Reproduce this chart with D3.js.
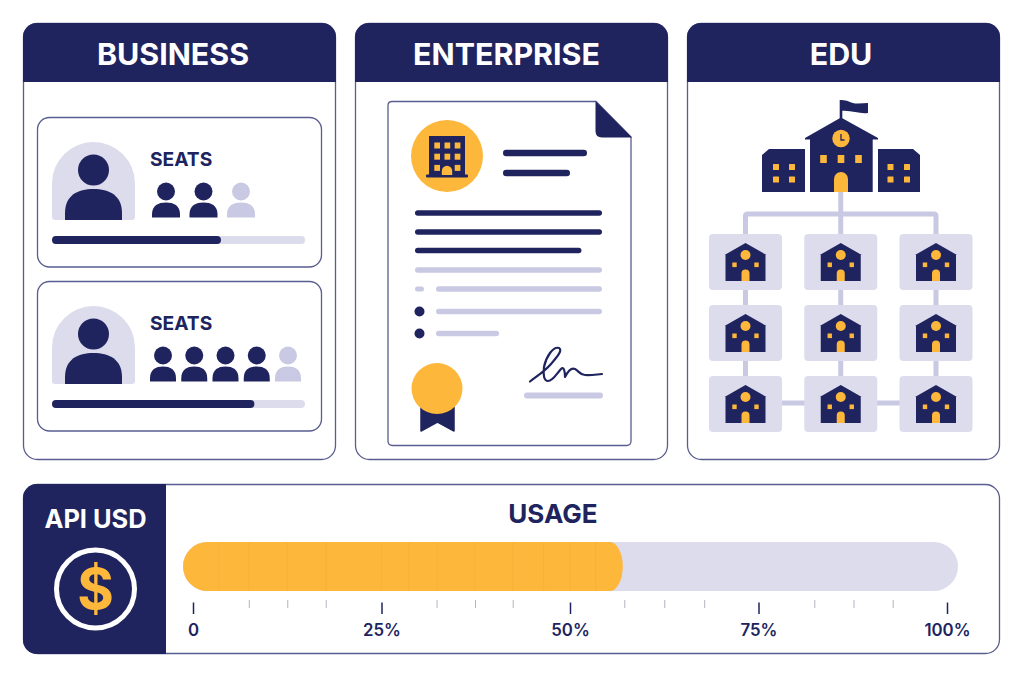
<!DOCTYPE html>
<html>
<head>
<meta charset="utf-8">
<script src="https://cdn.jsdelivr.net/npm/d3@7"></script>
<style>
  html, body { margin: 0; padding: 0; background: #fff; }
  svg { display: block; }
  text { font-family: Inter, "Noto Sans", sans-serif; }
</style>
</head>
<body>
<div id="chart"></div>
<script>
// data
const planTitles = ['BUSINESS', 'ENTERPRISE', 'EDU'];
const seatLabels = ['SEATS', 'SEATS'];
const seatsUsed = [2, 4];
const seatsTotal = [3, 5];
const seatShare = [66.8, 80];
const docDarkLines = [100, 100, 89];
const docLightLines = [100, 100, 100, 38];
const campusRows = [0, 1, 2];
const campusCols = [0, 1, 2];
const usageTitle = 'USAGE';
const usageLabel = 'API USD';
const usageValue = 57;
const usageMajor = [0, 25, 50, 75, 100];
const usageMinor = [7.4, 12.5, 17.6, 32.3, 37.4, 42.4, 57.2, 62.5, 67.8, 82.4, 87.6, 92.8];
const usageSegments = [3.4, 7.4, 12.5, 17.6, 25, 28.6, 32.4, 37.4, 42.4, 46.5, 50, 53.4];

const navy = '#20245e';
const orange = '#fdb73b';
const pale = '#dcdcec';
const lilac = '#c9c9e3';
const rim = '#5a5d90';

const svg = d3.select('#chart').append('svg')
    .attr('width', 1024)
    .attr('height', 683)
    .attr('viewBox', [0, 0, 1024, 683]);

function label(g, x, y, txt, size, weight, color, anchor) {
    return g.append('text')
        .attr('x', x).attr('y', y)
        .attr('text-anchor', anchor || 'middle')
        .attr('font-size', size)
        .attr('font-weight', weight)
        .attr('fill', color)
        .text(txt);
}

function bar(g, x0, x1, y, h, color) {
    return g.append('rect')
        .attr('x', x0).attr('y', y - h / 2)
        .attr('width', x1 - x0).attr('height', h)
        .attr('rx', h / 2)
        .attr('fill', color);
}

function person(g, cx, headY, r, bodyW, top, bottom, color) {
    const h = bottom - top;
    g.append('circle').attr('cx', cx).attr('cy', headY).attr('r', r).attr('fill', color);
    g.append('path')
        .attr('d', `M${cx - bodyW},${bottom} V${bottom - h * 0.22}
            C${cx - bodyW},${top + h * 0.2} ${cx - bodyW * 0.55},${top} ${cx},${top}
            S${cx + bodyW},${top + h * 0.2} ${cx + bodyW},${bottom - h * 0.22} V${bottom} Z`)
        .attr('fill', color);
}

// ---- top panels
const panelX = d3.scalePoint().domain(planTitles).range([23, 687]);
const titleX = [173, 506.5, 841];
const panelW = 313, panelTop = 23, panelBottom = 460, headBottom = 82, panelR = 14;

planTitles.forEach((title, i) => {
    const x = panelX(title);
    const g = svg.append('g');
    g.append('rect')
        .attr('x', x + 0.5).attr('y', panelTop + 0.5)
        .attr('width', panelW - 1).attr('height', panelBottom - panelTop - 1)
        .attr('rx', panelR)
        .attr('fill', '#fff')
        .attr('stroke', rim)
        .attr('stroke-width', 1.3);
    g.append('path')
        .attr('d', `M${x},${headBottom} V${panelTop + panelR} A${panelR},${panelR} 0 0 1 ${x + panelR},${panelTop}
            H${x + panelW - panelR} A${panelR},${panelR} 0 0 1 ${x + panelW},${panelTop + panelR} V${headBottom} Z`)
        .attr('fill', navy);
    label(g, titleX[i], 64.5, title, 30.4, 700, '#fff');
});

// ---- business: seat cards
const shareX = d3.scaleLinear().domain([0, 100]).range([52, 305]);
const cardTop = [117, 281];

seatsUsed.forEach((used, i) => {
    const y0 = cardTop[i];
    const total = seatsTotal[i];
    const g = svg.append('g');
    g.append('rect')
        .attr('x', 37.5).attr('y', y0 + 0.5)
        .attr('width', 284).attr('height', 149.5)
        .attr('rx', 12)
        .attr('fill', '#fff')
        .attr('stroke', rim)
        .attr('stroke-width', 1.3);

    // avatar
    g.append('path')
        .attr('d', `M52,${y0 + 100} V${y0 + 66.5} A41.5,41.5 0 0 1 135,${y0 + 66.5} V${y0 + 100}
            Q135,${y0 + 103} 132,${y0 + 103} H55 Q52,${y0 + 103} 52,${y0 + 100} Z`)
        .attr('fill', pale);
    person(g, 93.5, y0 + 53, 15.5, 28.5, y0 + 72, y0 + 103, navy);

    label(g, 150, y0 + 48.5, seatLabels[i], 19.2, 700, navy, 'start');

    // one small figure per seat
    const few = total <= 3;
    const seatX = d3.scalePoint()
        .domain(d3.range(total))
        .range(few ? [166, 241] : [163, 288]);
    d3.range(total).forEach(s => {
        person(g, seatX(s), y0 + 74.5, 9, few ? 14 : 13, y0 + 85.5, y0 + 100.5, s < used ? navy : lilac);
    });

    // seat share bar
    const barY = y0 + 123;
    bar(g, shareX(0), shareX(100), barY, 8, pale);
    bar(g, shareX(0), shareX(seatShare[i]), barY, 8, navy);
});

// ---- enterprise: contract document
const doc = svg.append('g');
doc.append('path')
    .attr('d', `M392,101.5 H596 L631,137 V441 Q631,445.5 626.5,445.5 H392.5 Q388,445.5 388,441 V105.5 Q388,101.5 392,101.5 Z`)
    .attr('fill', '#fff')
    .attr('stroke', rim)
    .attr('stroke-width', 1.3);
doc.append('path')
    .attr('d', 'M595.5,101 L632,137.5 H602 Q595.5,137.5 595.5,131 Z')
    .attr('fill', navy);

doc.append('circle').attr('cx', 447).attr('cy', 156).attr('r', 36).attr('fill', orange);
doc.append('rect').attr('x', 429).attr('y', 136).attr('width', 36).attr('height', 40).attr('fill', navy);
doc.append('rect').attr('x', 426).attr('y', 174.5).attr('width', 42).attr('height', 3).attr('rx', 1).attr('fill', navy);
[0, 1, 2].forEach(r => [0, 1, 2].forEach(c => {
    if (r === 2 && c === 1) return;
    doc.append('rect')
        .attr('x', 434.3 + c * 10.2).attr('y', 142.5 + r * 11.2)
        .attr('width', 5.7).attr('height', 6)
        .attr('fill', orange);
}));
doc.append('path')
    .attr('d', 'M441.8,175 V171 A5.2,5.2 0 0 1 452.2,171 V175 Z')
    .attr('fill', orange);

bar(doc, 503, 587, 153, 6.5, navy);
bar(doc, 503, 570, 173, 6.5, navy);

const docX = d3.scaleLinear().domain([0, 100]).range([415, 602]);
const docListX = d3.scaleLinear().domain([0, 100]).range([436, 602]);
const darkY = [213, 232, 250.5];
docDarkLines.forEach((v, i) => bar(doc, docX(0), docX(v), darkY[i], 5.5, navy));

const lightY = [270, 289, 311.5, 333.5];
bar(doc, docX(0), docX(docLightLines[0]), lightY[0], 5.5, lilac);
docLightLines.slice(1).forEach((v, i) => bar(doc, docListX(0), docListX(v), lightY[i + 1], 5.5, lilac));
bar(doc, 415, 424, lightY[1], 5, lilac);
doc.append('circle').attr('cx', 419.5).attr('cy', lightY[2]).attr('r', 5).attr('fill', navy);
doc.append('circle').attr('cx', 419.5).attr('cy', lightY[3]).attr('r', 5).attr('fill', navy);

// seal
doc.append('path')
    .attr('d', 'M421,405 H454 V431 L437.5,422 L421,431 Z')
    .attr('fill', navy)
    .attr('stroke', navy)
    .attr('stroke-linejoin', 'round')
    .attr('stroke-width', 1.5);
doc.append('circle').attr('cx', 437).attr('cy', 388.5).attr('r', 25.5).attr('fill', orange);

// signature
doc.append('path')
    .attr('d', `M530,381.5 C537,376 544,372 551,364 C557,357 563,350 559,348 C553,346 546,357 544,367
        C543,375 544,381 548,381 C553,381 557,373 561,369 C564,366 565,372 565,377 C567,373 571,367 575,369
        C579,371 580,375 585,375 C591,375.5 596,374.5 602,374`)
    .attr('fill', 'none')
    .attr('stroke', navy)
    .attr('stroke-width', 2.2)
    .attr('stroke-linecap', 'round')
    .attr('stroke-linejoin', 'round');
bar(doc, 524, 603, 395.5, 6, lilac);

// ---- edu: campus tree
const edu = svg.append('g');
const colX = d3.scalePoint().domain(campusCols).range([745.5, 936]);
const midX = colX(1) - 0.5;
const rowY = d3.scalePoint().domain(campusRows).range([262, 404]);
const tileW = 73, tileH = 56;

// connectors under the tiles
const linkColor = lilac;
function link(x1, y1, x2, y2) {
    edu.append('line')
        .attr('x1', x1).attr('y1', y1).attr('x2', x2).attr('y2', y2)
        .attr('stroke', linkColor)
        .attr('stroke-width', 5);
}
link(midX + 0.5, 190, midX + 0.5, 236);
edu.append('path')
    .attr('d', `M${colX(0)},236 V216 Q${colX(0)},214 ${colX(0) + 2},214 H${colX(2) - 2} Q${colX(2)},214 ${colX(2)},216 V236`)
    .attr('fill', 'none')
    .attr('stroke', linkColor)
    .attr('stroke-width', 5);
campusCols.forEach(c => link(colX(c), rowY(0), colX(c), rowY(2)));
link(colX(0), rowY(2) - 1, colX(2), rowY(2) - 1);

campusRows.forEach(r => campusCols.forEach(c => {
    const cx = c === 1 ? midX + 0.5 : colX(c);
    const top = rowY(r) - tileH / 2;
    const g = edu.append('g');
    g.append('rect')
        .attr('x', cx - tileW / 2).attr('y', top)
        .attr('width', tileW).attr('height', tileH)
        .attr('rx', 4)
        .attr('fill', pale);
    g.append('path')
        .attr('d', `M${cx},${top + 9} L${cx + 21},${top + 21} H${cx + 20} V${top + 47} H${cx - 20} V${top + 21} H${cx - 21} Z`)
        .attr('fill', navy);
    g.append('circle').attr('cx', cx).attr('cy', top + 21).attr('r', 5).attr('fill', orange);
    [-11, 11].forEach(d => {
        g.append('rect')
            .attr('x', cx + d - 2.2).attr('y', top + 28.5)
            .attr('width', 4.4).attr('height', 4.6)
            .attr('fill', orange);
    });
    g.append('path')
        .attr('d', `M${cx - 4},${top + 47} V${top + 39.5} A4,4 0 0 1 ${cx + 4},${top + 39.5} V${top + 47} Z`)
        .attr('fill', orange);
}));

// main school
edu.append('rect').attr('x', 839.7).attr('y', 100).attr('width', 2.6).attr('height', 20).attr('fill', navy);
edu.append('path')
    .attr('d', 'M841,100 C848,100 852,104 858,103.5 L868,103 V113 C860,114.5 852,110 841,111 Z')
    .attr('fill', navy);
edu.append('path')
    .attr('d', 'M841,117.5 L878,138 V139.5 H872.7 V192 H810 V139.5 H805 V138 Z')
    .attr('fill', navy);
edu.append('circle').attr('cx', 841).attr('cy', 138.5).attr('r', 8.7).attr('fill', orange);
edu.append('path')
    .attr('d', 'M841,134 V140 H844.5')
    .attr('fill', 'none')
    .attr('stroke', navy)
    .attr('stroke-width', 1.3);
[823.5, 841, 858.5].forEach(x => {
    edu.append('rect').attr('x', x - 3.3).attr('y', 155).attr('width', 6.6).attr('height', 8).attr('fill', orange);
});
edu.append('path').attr('d', 'M834,192 V179 A7,7 0 0 1 848,179 V192 Z').attr('fill', orange);

edu.append('path').attr('d', 'M769,149 H805 V192 H762 V155 Z').attr('fill', navy);
edu.append('path').attr('d', 'M878,149 H913 L920,155 V192 H878 Z').attr('fill', navy);
[776, 792, 890.5, 907].forEach(x => [167, 179.5].forEach(y => {
    edu.append('rect').attr('x', x - 3).attr('y', y - 3).attr('width', 6).attr('height', 6).attr('rx', 0.5).attr('fill', orange);
}));

// ---- usage panel
const use = svg.append('g');
const top2 = 484, bot2 = 654, side = 166;
use.append('rect')
    .attr('x', 23.5).attr('y', top2 + 0.5)
    .attr('width', 976).attr('height', bot2 - top2 - 1)
    .attr('rx', 14)
    .attr('fill', '#fff')
    .attr('stroke', rim)
    .attr('stroke-width', 1.3);
use.append('path')
    .attr('d', `M${side},${top2} H37 A14,14 0 0 0 23,${top2 + 14} V${bot2 - 14} A14,14 0 0 0 37,${bot2} H${side} Z`)
    .attr('fill', navy);

label(use, 95.5, 527.5, usageLabel, 25.4, 700, '#fff');
use.append('circle')
    .attr('cx', 95.5).attr('cy', 589).attr('r', 39)
    .attr('fill', 'none')
    .attr('stroke', '#fff')
    .attr('stroke-width', 5);
label(use, 95.5, 609, '$', 56, 700, orange);

label(use, 553, 522.5, usageTitle, 26, 700, navy);

const usageX = d3.scaleLinear().domain([0, 100]).range([193, 947]);
const trackX0 = 183, trackX1 = 958, trackY = 542, trackH = 49;
const endR = trackH / 2, tipR = 13;

use.append('rect')
    .attr('x', trackX0).attr('y', trackY)
    .attr('width', trackX1 - trackX0).attr('height', trackH)
    .attr('rx', endR)
    .attr('fill', pale);
use.append('path')
    .attr('d', `M${trackX0 + endR},${trackY} H${usageX(usageValue) - tipR}
        A${tipR},${endR} 0 0 1 ${usageX(usageValue) - tipR},${trackY + trackH}
        H${trackX0 + endR} A${endR},${endR} 0 0 1 ${trackX0 + endR},${trackY} Z`)
    .attr('fill', orange);
use.append('g')
    .selectAll('line')
    .data(usageSegments)
    .join('line')
    .attr('x1', d => usageX(d)).attr('x2', d => usageX(d))
    .attr('y1', trackY).attr('y2', trackY + trackH)
    .attr('stroke', '#f6b038')
    .attr('stroke-width', 0.8);

const minorAxis = d3.axisBottom(usageX)
    .tickValues(usageMinor)
    .tickSize(8)
    .tickFormat('');
const minorG = use.append('g')
    .attr('transform', 'translate(0,600)')
    .call(minorAxis);
minorG.select('.domain').remove();
minorG.selectAll('line').attr('stroke', '#b4b4c4').attr('stroke-width', 1);

const majorAxis = d3.axisBottom(usageX)
    .tickValues(usageMajor)
    .tickSize(11.5)
    .tickPadding(10)
    .tickFormat(d => d === 0 ? '0' : d + '%');
const majorG = use.append('g')
    .attr('transform', 'translate(0,602.5)')
    .call(majorAxis);
majorG.select('.domain').remove();
majorG.selectAll('line').attr('stroke', navy).attr('stroke-width', 1.5);
majorG.selectAll('text')
    .attr('fill', navy)
    .attr('font-size', 16.8)
    .attr('font-weight', 600)
    .attr('font-family', 'Inter, "Noto Sans", sans-serif');
</script>
</body>
</html>
